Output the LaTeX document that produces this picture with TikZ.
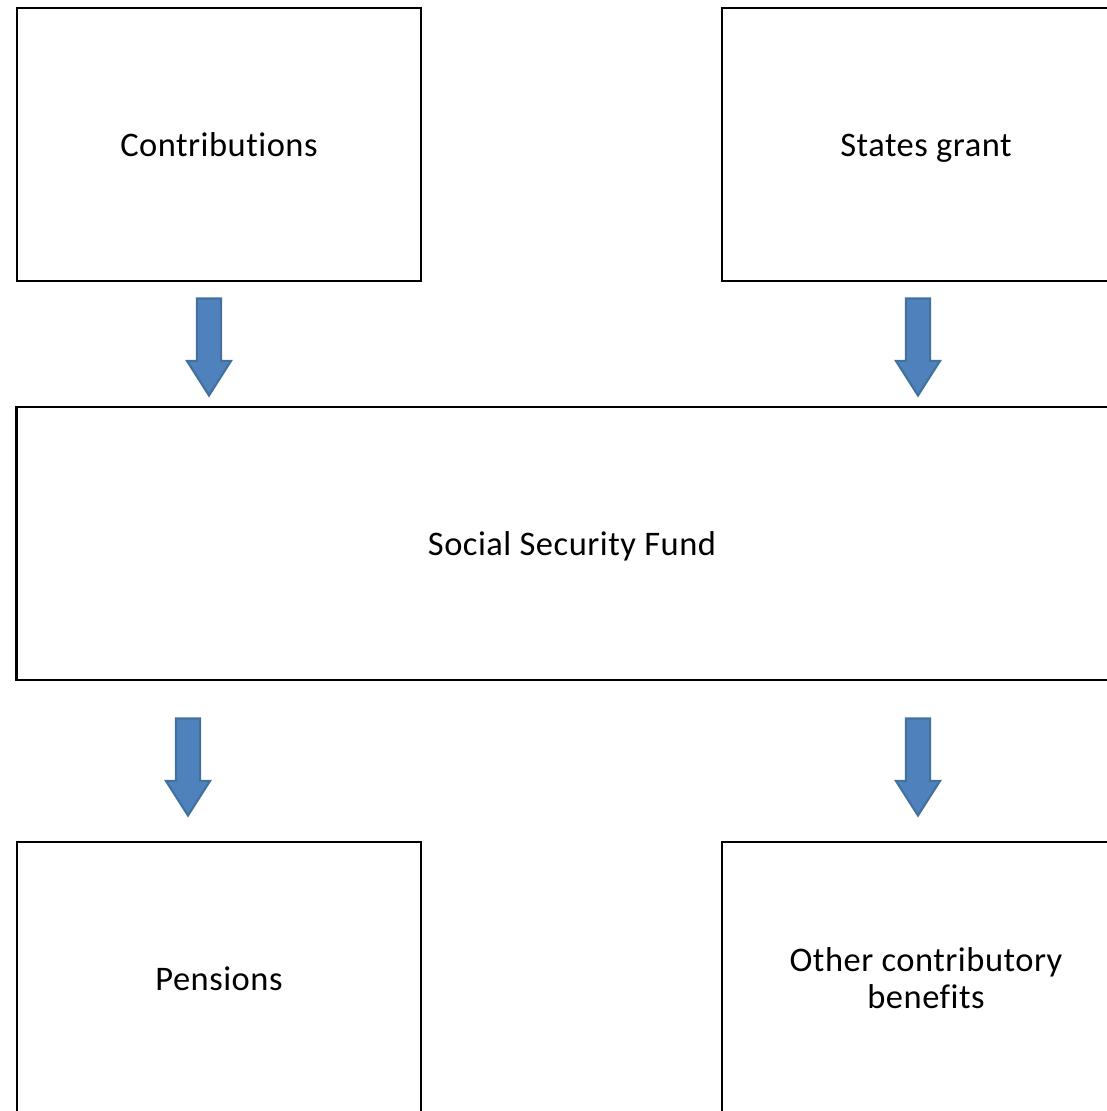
\documentclass[tikz,border=0pt]{standalone}
\usepackage{fontspec}
\setmainfont{Carlito}[LetterSpace=1.5,Ligatures=NoCommon]
\usepackage{xcolor}
\usepackage{tikz}
\usetikzlibrary{shapes.arrows,positioning}
\definecolor{arrblue}{HTML}{4F81BD}
\definecolor{arrline}{HTML}{41719C}
\tikzset{
  basebox/.style ={draw,line width=0.75pt,align=center,inner sep=2pt,
                   minimum width=4.04cm,minimum height=2.73cm,
                   font=\fontsize{9.8}{10.6}\selectfont},
  fundbox/.style ={basebox,text height=0.88em,text depth=0.22em},
  widebox/.style ={fundbox,minimum width=11.10cm},
  flowarr/.style ={single arrow,draw=arrline,fill=arrblue,line width=0.6pt,
                   rotate=-90,inner sep=0pt,text height=0.22cm,text depth=0pt,
                   minimum height=0.97cm,minimum width=0pt,
                   single arrow head extend=0.10cm,single arrow tip angle=65},
}

\begin{document}
\begin{tikzpicture}[x=0.01cm,y=-0.01cm]

\useasboundingbox (0,0) rectangle (1107,1111);
\clip (0,0) rectangle (1107,1111);

% sources
\node[fundbox] (contrib) at (219,144.5) {Contributions};
\node[fundbox,minimum width=4.08cm] (grant) at (926,144.5) {States grant};

% the fund itself
\node[widebox] (fund) at (572,543.5) {Social Security Fund};

% payouts
\node[fundbox] (pens) at (219,978.5) {Pensions};
\node[basebox,minimum width=4.08cm] (other) at (926,978.5)
   {Other contributory\\benefits};

% block arrows between the rows
\node[flowarr] (a1) at (209,337.5) {};
\node[flowarr] (a2) at (918,337.5) {};
\node[flowarr] (a3) at (188,757.5) {};
\node[flowarr] (a4) at (918,757.5) {};

\end{tikzpicture}
\end{document}
